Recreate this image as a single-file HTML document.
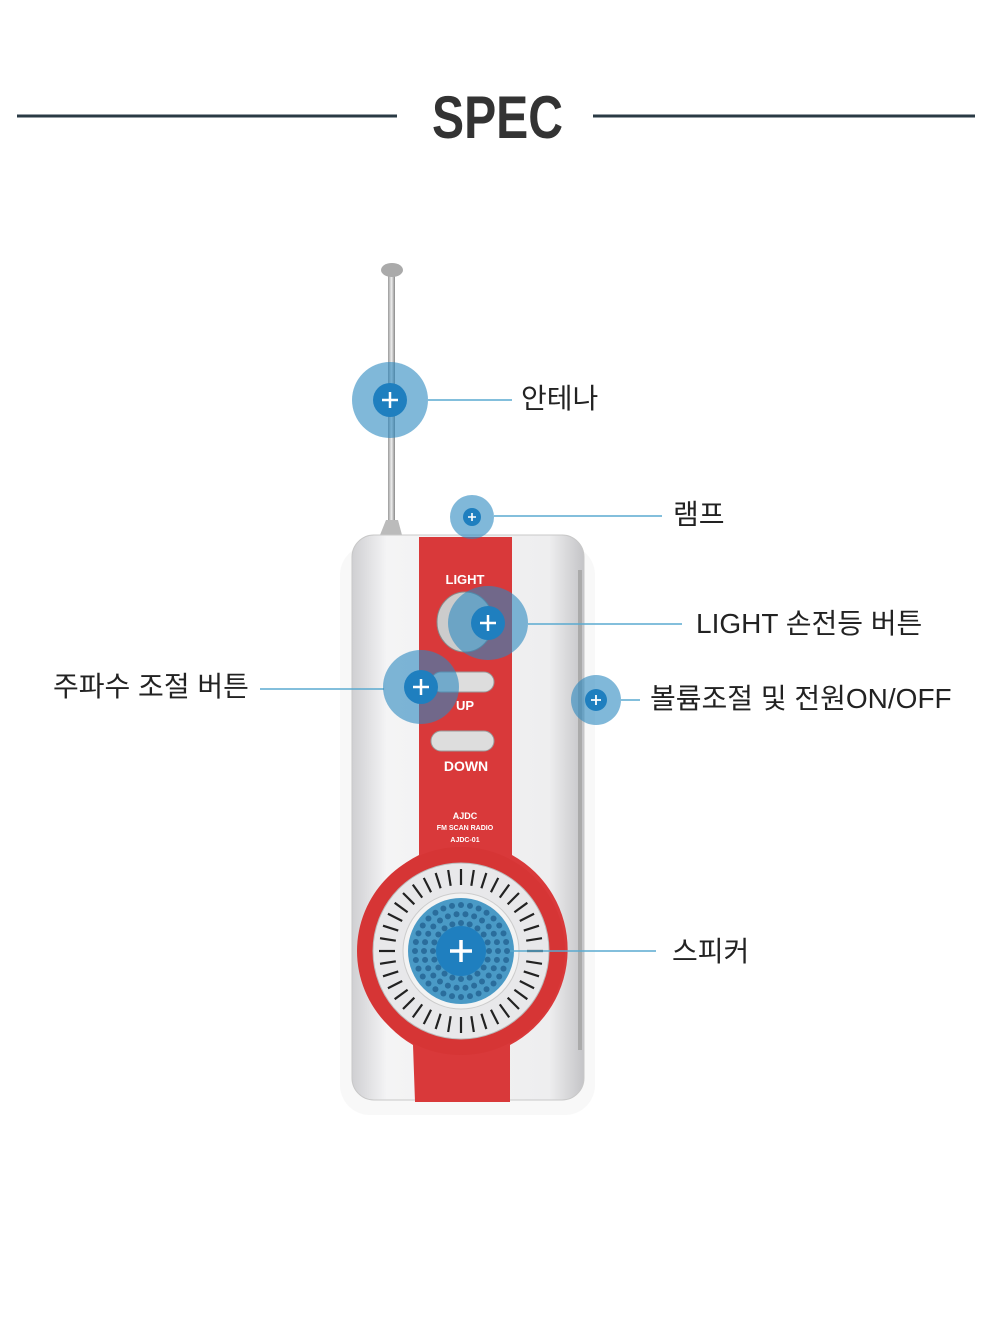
<!DOCTYPE html>
<html><head><meta charset="utf-8"><style>
html,body{margin:0;padding:0;background:#fff;}
body{width:995px;height:1336px;position:relative;overflow:hidden;font-family:"Liberation Sans","Noto Sans CJK KR",sans-serif;}
.t{position:absolute;font-size:28px;color:#222;white-space:nowrap;line-height:1;}
</style></head><body>
<svg width="995" height="1336" style="position:absolute;left:0;top:0">
<defs>
<linearGradient id="sil" x1="0" x2="1"><stop offset="0" stop-color="#cfcfd2"/><stop offset="0.15" stop-color="#f4f4f5"/><stop offset="0.85" stop-color="#eeeeef"/><stop offset="1" stop-color="#c4c4c7"/></linearGradient>
<linearGradient id="ant" x1="0" x2="1"><stop offset="0" stop-color="#9a9a9a"/><stop offset="0.5" stop-color="#eee"/><stop offset="1" stop-color="#888"/></linearGradient>
</defs>
<line x1="17" y1="116" x2="397" y2="116" stroke="#2a3a44" stroke-width="3"/>
<line x1="593" y1="116" x2="975" y2="116" stroke="#2a3a44" stroke-width="3"/>
<text x="432" y="138" textLength="131" lengthAdjust="spacingAndGlyphs" font-family="Liberation Sans, sans-serif" font-weight="bold" font-size="60" fill="#333">SPEC</text>
<rect x="388" y="272" width="7" height="262" fill="url(#ant)"/>
<ellipse cx="392" cy="270" rx="11" ry="7" fill="#aaa"/>
<path d="M380 535 L386 520 L398 520 L402 535Z" fill="#bbb"/>
<rect x="340" y="545" width="255" height="570" rx="30" fill="#f3f3f3" opacity="0.6"/>
<rect x="352" y="535" width="232" height="565" rx="22" fill="url(#sil)" stroke="#c8c8c8"/>
<rect x="578" y="570" width="4" height="480" fill="#aaa"/>
<path d="M419 537 L512 537 L512 855 A108 108 0 0 1 510 1045 L510 1102 L415 1102 L413 1045 A108 108 0 0 1 419 855 Z" fill="#d9393a"/>
<circle cx="461" cy="951" r="104" fill="#d63535"/>
<circle cx="461" cy="951" r="88" fill="#e8e8ea" stroke="#bbb"/>
<g id="ticks" stroke="#222" stroke-width="2.2"></g>
<circle cx="461" cy="951" r="58" fill="#f3f3f3" stroke="#ccc"/>
<circle cx="461" cy="951" r="53" fill="#4a9ac6"/>
<g fill="#2a6d9c" id="dots"></g>
<ellipse cx="465" cy="622" rx="28" ry="30" fill="#ccc" stroke="#888"/>
<rect x="431" y="672" width="63" height="20" rx="10" fill="#ddd" stroke="#999"/>
<rect x="431" y="731" width="63" height="20" rx="10" fill="#ddd" stroke="#999"/>
<g font-family="Liberation Sans, sans-serif" font-weight="bold" fill="#fff" text-anchor="middle">
<text x="465" y="584" font-size="13">LIGHT</text>
<text x="465" y="710" font-size="13">UP</text>
<text x="466" y="771" font-size="14">DOWN</text>
<text x="465" y="819" font-size="9">AJDC</text>
<text x="465" y="830" font-size="7">FM SCAN RADIO</text>
<text x="465" y="842" font-size="7">AJDC-01</text>
</g>
<g stroke="#5aaad0" stroke-width="1.5">
<line x1="428" y1="400" x2="512" y2="400"/>
<line x1="494" y1="516" x2="662" y2="516"/>
<line x1="528" y1="624" x2="682" y2="624"/>
<line x1="260" y1="689" x2="384" y2="689"/>
<line x1="621" y1="700" x2="640" y2="700"/>
<line x1="510" y1="951" x2="656" y2="951"/>
</g>
<g fill="#2c88bf" fill-opacity="0.6">
<circle cx="390" cy="400" r="38"/>
<circle cx="472" cy="517" r="22"/>
<ellipse cx="488" cy="623" rx="40" ry="37"/>
<ellipse cx="421" cy="687" rx="38" ry="37"/>
<circle cx="596" cy="700" r="25"/>
</g>
<g fill="#1f7fbf">
<circle cx="390" cy="400" r="17"/>
<circle cx="472" cy="517" r="9"/>
<circle cx="488" cy="623" r="17"/>
<circle cx="421" cy="687" r="17"/>
<circle cx="596" cy="700" r="11"/>
<circle cx="461" cy="951" r="25"/>
</g>
<g stroke="#fff" stroke-width="2.5">
<path d="M382 400h16M390 392v16"/>
<path d="M468 517h8M472 513v8" stroke-width="1.6"/>
<path d="M480 623h16M488 615v16"/>
<path d="M413 687h16M421 679v16"/>
<path d="M591 700h10M596 695v10" stroke-width="1.8"/>
<path d="M450 951h22M461 940v22" stroke-width="3.5"/>
</g>
</svg>
<div class="t" style="left:521px;top:385px">안테나</div>
<div class="t" style="left:673px;top:501px">램프</div>
<div class="t" style="left:696px;top:610px">LIGHT 손전등 버튼</div>
<div class="t" style="left:53px;top:673px">주파수 조절 버튼</div>
<div class="t" style="left:650px;top:685px">볼륨조절 및 전원ON/OFF</div>
<div class="t" style="left:672px;top:938px">스피커</div>
<script>
var g=document.getElementById('ticks'),s='';
for(var i=0;i<40;i++){var a=i*Math.PI*2/40,c=Math.cos(a),n=Math.sin(a);
s+='<line x1="'+(461+c*66)+'" y1="'+(951+n*66)+'" x2="'+(461+c*82)+'" y2="'+(951+n*82)+'"/>';}
g.innerHTML=s;
var d=document.getElementById('dots'),t='';
for(var r=10;r<=46;r+=9){var k=Math.round(r*0.7);for(var j=0;j<k;j++){var a=j*Math.PI*2/k;t+='<circle cx="'+(461+Math.cos(a)*r)+'" cy="'+(951+Math.sin(a)*r)+'" r="3"/>';}}
d.innerHTML=t;
</script>
</body></html>
